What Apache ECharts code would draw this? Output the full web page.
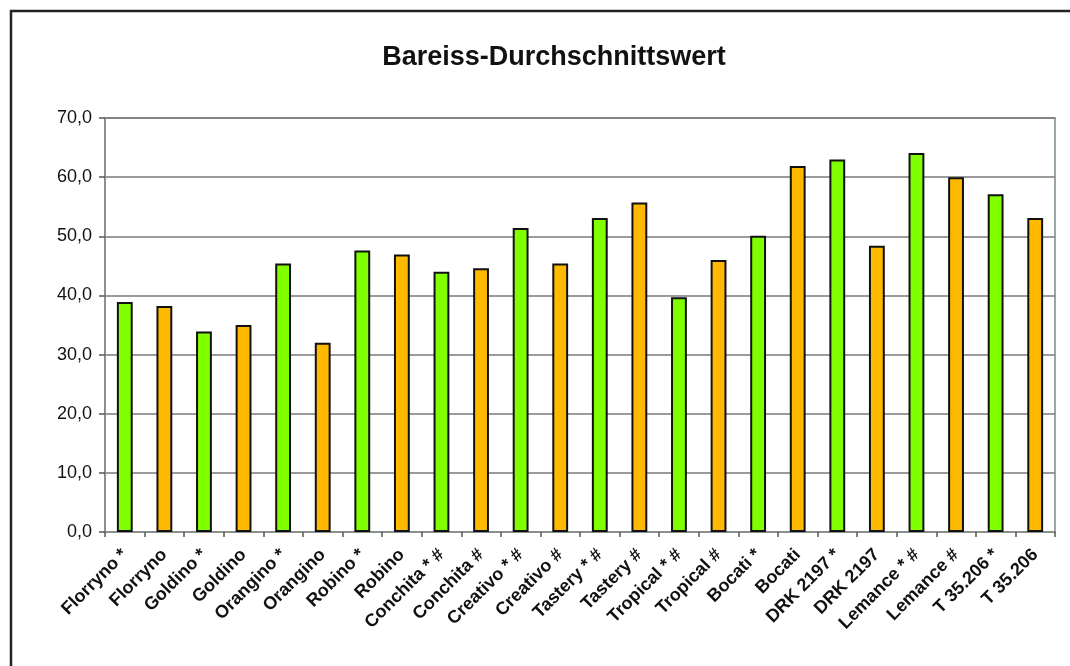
<!DOCTYPE html>
<html>
<head>
<meta charset="utf-8">
<script src="https://cdn.jsdelivr.net/npm/echarts@6/dist/echarts.min.js"></script>
<style>
html,body{margin:0;padding:0;background:#fff;}
#chart{width:1070px;height:666px;}
</style>
</head>
<body>
<div id="chart"></div>
<script>
const title = 'Bareiss-Durchschnittswert';
const categories = ['Florryno *','Florryno','Goldino *','Goldino','Orangino *','Orangino','Robino *','Robino','Conchita * #','Conchita #','Creativo * #','Creativo #','Tastery * #','Tastery #','Tropical * #','Tropical #','Bocati *','Bocati','DRK 2197 *','DRK 2197','Lemance * #','Lemance #','T 35.206 *','T 35.206'];
const values = [38.9, 38.2, 33.9, 35.0, 45.4, 32.0, 47.6, 46.9, 44.0, 44.6, 51.4, 45.4, 53.1, 55.7, 39.7, 46.0, 50.1, 61.9, 63.0, 48.4, 64.1, 60.0, 57.1, 53.1];
const yTicks = [0, 10, 20, 30, 40, 50, 60, 70];
const greenColor = '#80FF00';
const orangeColor = '#FFB900';

const chart = echarts.init(document.getElementById('chart'), null, {renderer: 'canvas'});
chart.setOption({
  animation: false,
  backgroundColor: '#ffffff',
  title: {
    text: title,
    left: 549,
    textAlign: 'center',
    top: 39,
    textStyle: {fontFamily: 'Liberation Sans', fontSize: 27, fontWeight: 'bold', color: '#111'}
  },
  graphic: [{
    type: 'rect',
    shape: {x: 11, y: 11, width: 1200, height: 800},
    style: {fill: 'none', stroke: '#222', lineWidth: 2.5},
    silent: true
  }],
  grid: {
    left: 105, right: 15, top: 118, bottom: 134,
    show: true, borderColor: '#9aa6a6', borderWidth: 2, backgroundColor: 'transparent'
  },
  xAxis: {
    type: 'category',
    data: categories,
    boundaryGap: true,
    axisLine: {lineStyle: {color: '#8a9090', width: 2}},
    axisTick: {show: true, length: 5, lineStyle: {color: '#555', width: 1.5}},
    axisLabel: {
      interval: 0, rotate: 45, margin: 20,
      fontFamily: 'Liberation Sans', fontSize: 18, fontWeight: 'bold', color: '#111'
    }
  },
  yAxis: {
    type: 'value',
    min: yTicks[0], max: yTicks[yTicks.length - 1], interval: 10,
    axisLine: {show: true, lineStyle: {color: '#8a9090', width: 2}},
    axisTick: {show: true, length: 6, lineStyle: {color: '#555', width: 1.5}},
    splitLine: {lineStyle: {color: '#7a7a7a', width: 1.5}},
    axisLabel: {
      margin: 13,
      fontFamily: 'Liberation Sans', fontSize: 18, color: '#111',
      formatter: v => v.toFixed(1).replace('.', ',')
    }
  },
  series: [{
    type: 'bar',
    data: values.map((v, i) => ({
      value: v,
      itemStyle: {color: categories[i].includes('*') ? greenColor : orangeColor}
    })),
    barWidth: '40%',
    itemStyle: {borderColor: '#111', borderWidth: 2}
  }]
});
</script>
</body>
</html>
